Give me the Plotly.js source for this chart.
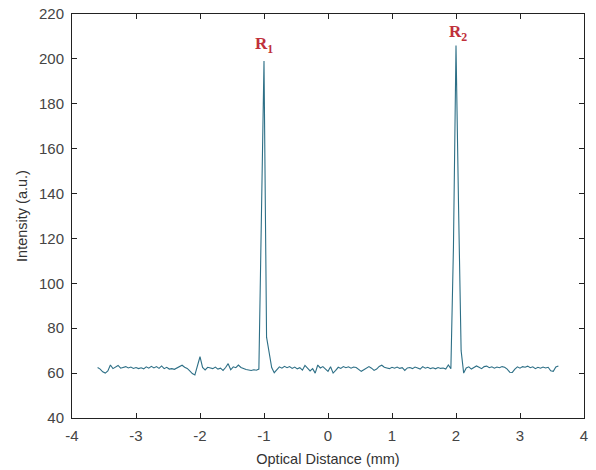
<!DOCTYPE html>
<html>
<head>
<meta charset="utf-8">
<script src="https://cdn.plot.ly/plotly-3.0.1.min.js"></script>
<style>html,body{margin:0;padding:0;background:#fff;}#chart{width:596px;height:470px;}</style>
</head>
<body>
<div id="chart"></div>
<script>
// Optical distance sample start/step (mm) and intensity readings (a.u.)
const xStart = -3.6;
const xStep = 0.04;
const intensity = [
62.5,61.8,60.6,60.0,61.0,63.6,62.0,62.8,63.4,62.2,
62.6,62.9,62.3,62.7,62.1,62.5,62.0,62.4,61.9,62.8,
62.2,63.0,62.3,62.9,62.1,63.2,62.0,62.6,61.8,62.0,
61.7,62.2,62.8,63.5,62.6,62.1,61.0,59.8,59.2,63.0,
67.3,62.5,61.4,62.6,62.3,62.0,62.7,61.8,62.2,61.2,
62.5,64.2,61.5,62.8,62.4,63.6,62.5,62.0,61.6,61.4,
61.2,61.5,61.3,61.8,130,199,76,70,62.5,60.2,
61.6,62.8,62.2,63.0,62.4,62.9,62.1,62.7,61.9,62.4,
61.3,63.4,62.2,61.0,62.0,60.0,63.6,62.3,62.9,61.6,
60.8,62.8,60.0,61.2,62.6,62.1,62.9,62.4,62.8,62.2,
62.7,62.5,61.6,60.8,61.5,62.4,62.9,62.2,61.2,61.8,
63.0,63.5,62.6,62.3,62.0,62.6,62.2,62.7,62.1,62.4,
61.2,62.3,62.5,62.0,62.7,62.3,61.8,62.9,62.2,62.6,
62.0,62.4,61.9,62.5,62.1,62.3,61.8,63.6,62.0,116,
206,134,70,60.0,62.3,62.8,61.8,62.5,63.2,62.6,
62.0,62.9,63.1,62.4,62.8,62.2,62.7,62.4,62.9,62.6,
61.8,60.4,60.3,61.8,62.8,62.2,62.9,62.6,63.1,62.4,
62.8,62.0,62.6,62.2,62.7,62.3,62.6,61.0,60.8,62.7,
63.2
];
const xTicks = [-4,-3,-2,-1,0,1,2,3,4];
const yTicks = [40,60,80,100,120,140,160,180,200,220];
const peakLabels = ['R<sub>1</sub>','R<sub>2</sub>'];
const peakLabelX = [-1.0, 2.03];
const peakLabelY = [206, 211.5];

const xs = intensity.map((_, i) => +(xStart + i * xStep).toFixed(2));

const fontSans = 'Liberation Sans, Arial, sans-serif';
const axisCommon = {
  showgrid: false, zeroline: false, showline: true, mirror: 'ticks',
  linecolor: '#222', linewidth: 1, ticks: 'inside', ticklen: 5, tickwidth: 1,
  tickcolor: '#222', tickfont: {family: fontSans, size: 15, color: '#444'}
};

const layout = {
  width: 596, height: 470,
  margin: {l: 72, r: 12, t: 14, b: 52},
  paper_bgcolor: '#fff', plot_bgcolor: '#fff',
  showlegend: false,
  xaxis: Object.assign({}, axisCommon, {
    range: [-4, 4], tickmode: 'array', tickvals: xTicks, ticktext: xTicks.map(String),
    ticklabelstandoff: 4,
    title: {text: 'Optical Distance (mm)', standoff: 10, font: {family: fontSans, size: 14.5, color: '#333'}}
  }),
  yaxis: Object.assign({}, axisCommon, {
    range: [40, 220], tickmode: 'array', tickvals: yTicks, ticktext: yTicks.map(String),
    ticklabelstandoff: 4,
    title: {text: 'Intensity (a.u.)', standoff: 7, font: {family: fontSans, size: 14.5, color: '#333'}}
  }),
  annotations: peakLabels.map((t, k) => ({
    x: peakLabelX[k], y: peakLabelY[k], xref: 'x', yref: 'y', text: t, showarrow: false,
    font: {family: 'Liberation Serif, Times New Roman, serif', size: 17, color: '#c0303a', weight: 'bold'}
  }))
};

Plotly.newPlot('chart', [{
  x: xs, y: intensity, type: 'scatter', mode: 'lines',
  line: {color: '#2d6f86', width: 1.1}
}], layout, {displayModeBar: false, staticPlot: true});
</script>
</body>
</html>
